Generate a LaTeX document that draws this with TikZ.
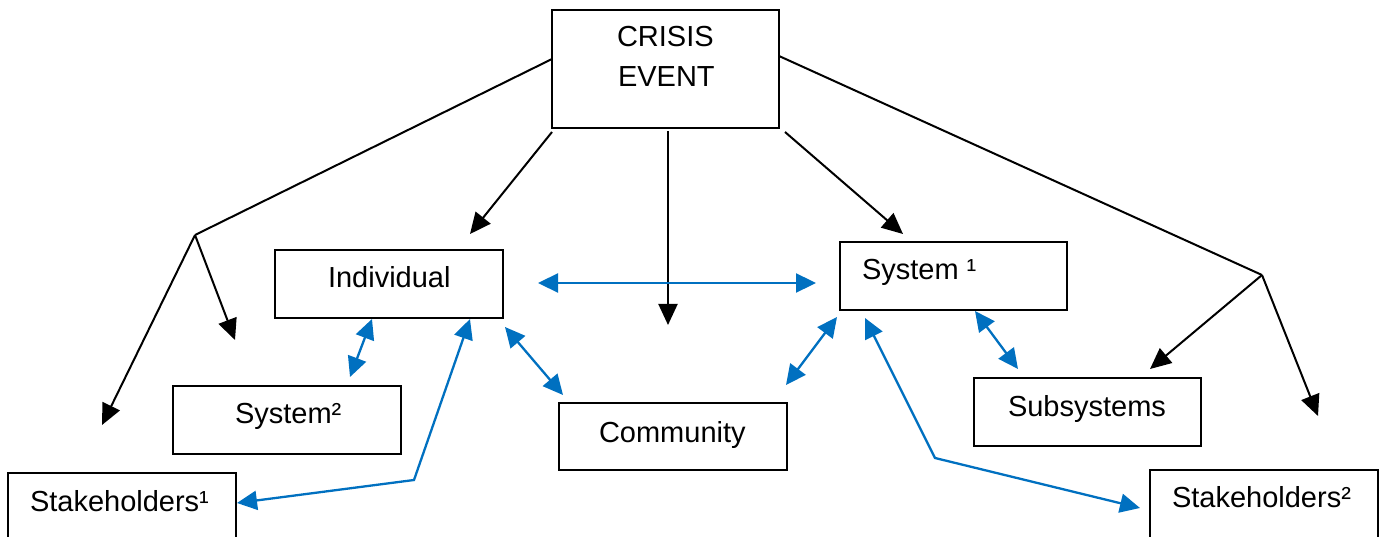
\documentclass[tikz,border=0pt]{standalone}
\usepackage{fontspec}
\setmainfont{Liberation Sans}
\usetikzlibrary{arrows.meta}
\definecolor{lblue}{HTML}{0070C0}
\begin{document}
\begin{tikzpicture}[x=1pt,y=-1pt,
  box/.style={draw, line width=1.6pt, inner sep=0pt, outer sep=0pt},
  txt/.style={anchor=base west, inner sep=0pt, outer sep=0pt, font=\fontsize{29}{34}\selectfont},
  blk/.style={draw, line width=2pt},
  blkarr/.style={blk, -{Triangle[length=21pt,width=19pt]}},
  bluarr/.style={draw=lblue, line width=2.3pt, {Triangle[length=20pt,width=19pt]}-{Triangle[length=20pt,width=19pt]}}]
\useasboundingbox (0,0) rectangle (1382,537);
\clip (0,0) rectangle (1382,537);
% boxes
\node[box, minimum width=227pt, minimum height=118pt] (crisis) at (665.5,69) {};
\node[box, minimum width=228pt, minimum height=68pt] (indiv) at (389,284) {};
\node[box, minimum width=228pt, minimum height=68pt] (sys2) at (287,420) {};
\node[box, minimum width=228pt, minimum height=100pt] (stake1) at (122,523) {};
\node[box, minimum width=228pt, minimum height=67pt] (comm) at (673,436.5) {};
\node[box, minimum width=227pt, minimum height=68pt] (sys1) at (953.5,276) {};
\node[box, minimum width=227pt, minimum height=68pt] (subs) at (1087.5,412) {};
\node[box, minimum width=228pt, minimum height=100pt] (stake2) at (1264,520) {};
% texts
\node[txt] (crisisA) at (617,47) {CRISIS};
\node[txt] (crisisB) at (618,87) {EVENT};
\node[txt] (indivT) at (328,288) {Individual};
\node[txt] (sys2T) at (235,423) {System²};
\node[txt] (stake1T) at (30,511) {Stakeholders¹};
\node[txt] (commT) at (599,442) {Community};
\node[txt] (sys1T) at (862,280) {System ¹};
\node[txt] (subsT) at (1008,416) {Subsystems};
\node[txt] (stake2T) at (1172,507) {Stakeholders²};
% coordinates
\coordinate (cL) at (552,59);
\coordinate (cR) at (779,56);
\coordinate (cBL) at (552,132);
\coordinate (cBM) at (668,131);
\coordinate (cBR) at (785,132);
\coordinate (brL) at (195,235);
\coordinate (brR) at (1262,275);
\coordinate (tStake1) at (102,425);
\coordinate (tSys2) at (235,340);
\coordinate (tIndiv) at (470,234);
\coordinate (tMid) at (668,325);
\coordinate (tSys1) at (903,234);
\coordinate (tSubs) at (1150,369);
\coordinate (tStake2) at (1318,416);
\coordinate (hA) at (538,283);
\coordinate (hB) at (816,283);
\coordinate (isA) at (372,319);
\coordinate (isB) at (350,377);
\coordinate (ikA) at (470,319);
\coordinate (ikM) at (414,480);
\coordinate (ikB) at (237,503);
\coordinate (icA) at (505,327);
\coordinate (icB) at (563,395);
\coordinate (scA) at (837,317);
\coordinate (scB) at (786,385);
\coordinate (ssA) at (975,311);
\coordinate (ssB) at (1018,369);
\coordinate (skA) at (865,318);
\coordinate (skM) at (935,458);
\coordinate (skB) at (1140,508);
% black connectors
\draw[blk] (cL) -- (brL);
\draw[blkarr] (brL) -- (tStake1);
\draw[blkarr] (brL) -- (tSys2);
\draw[blkarr] (cBL) -- (tIndiv);
\draw[blkarr] (cBM) -- (tMid);
\draw[blkarr] (cBR) -- (tSys1);
\draw[blk] (cR) -- (brR);
\draw[blkarr] (brR) -- (tSubs);
\draw[blkarr] (brR) -- (tStake2);
% blue connectors
\draw[bluarr] (hA) -- (hB);
\draw[bluarr] (isA) -- (isB);
\draw[bluarr] (ikA) -- (ikM) -- (ikB);
\draw[bluarr] (icA) -- (icB);
\draw[bluarr] (scA) -- (scB);
\draw[bluarr] (ssA) -- (ssB);
\draw[bluarr] (skA) -- (skM) -- (skB);
\end{tikzpicture}
\end{document}
